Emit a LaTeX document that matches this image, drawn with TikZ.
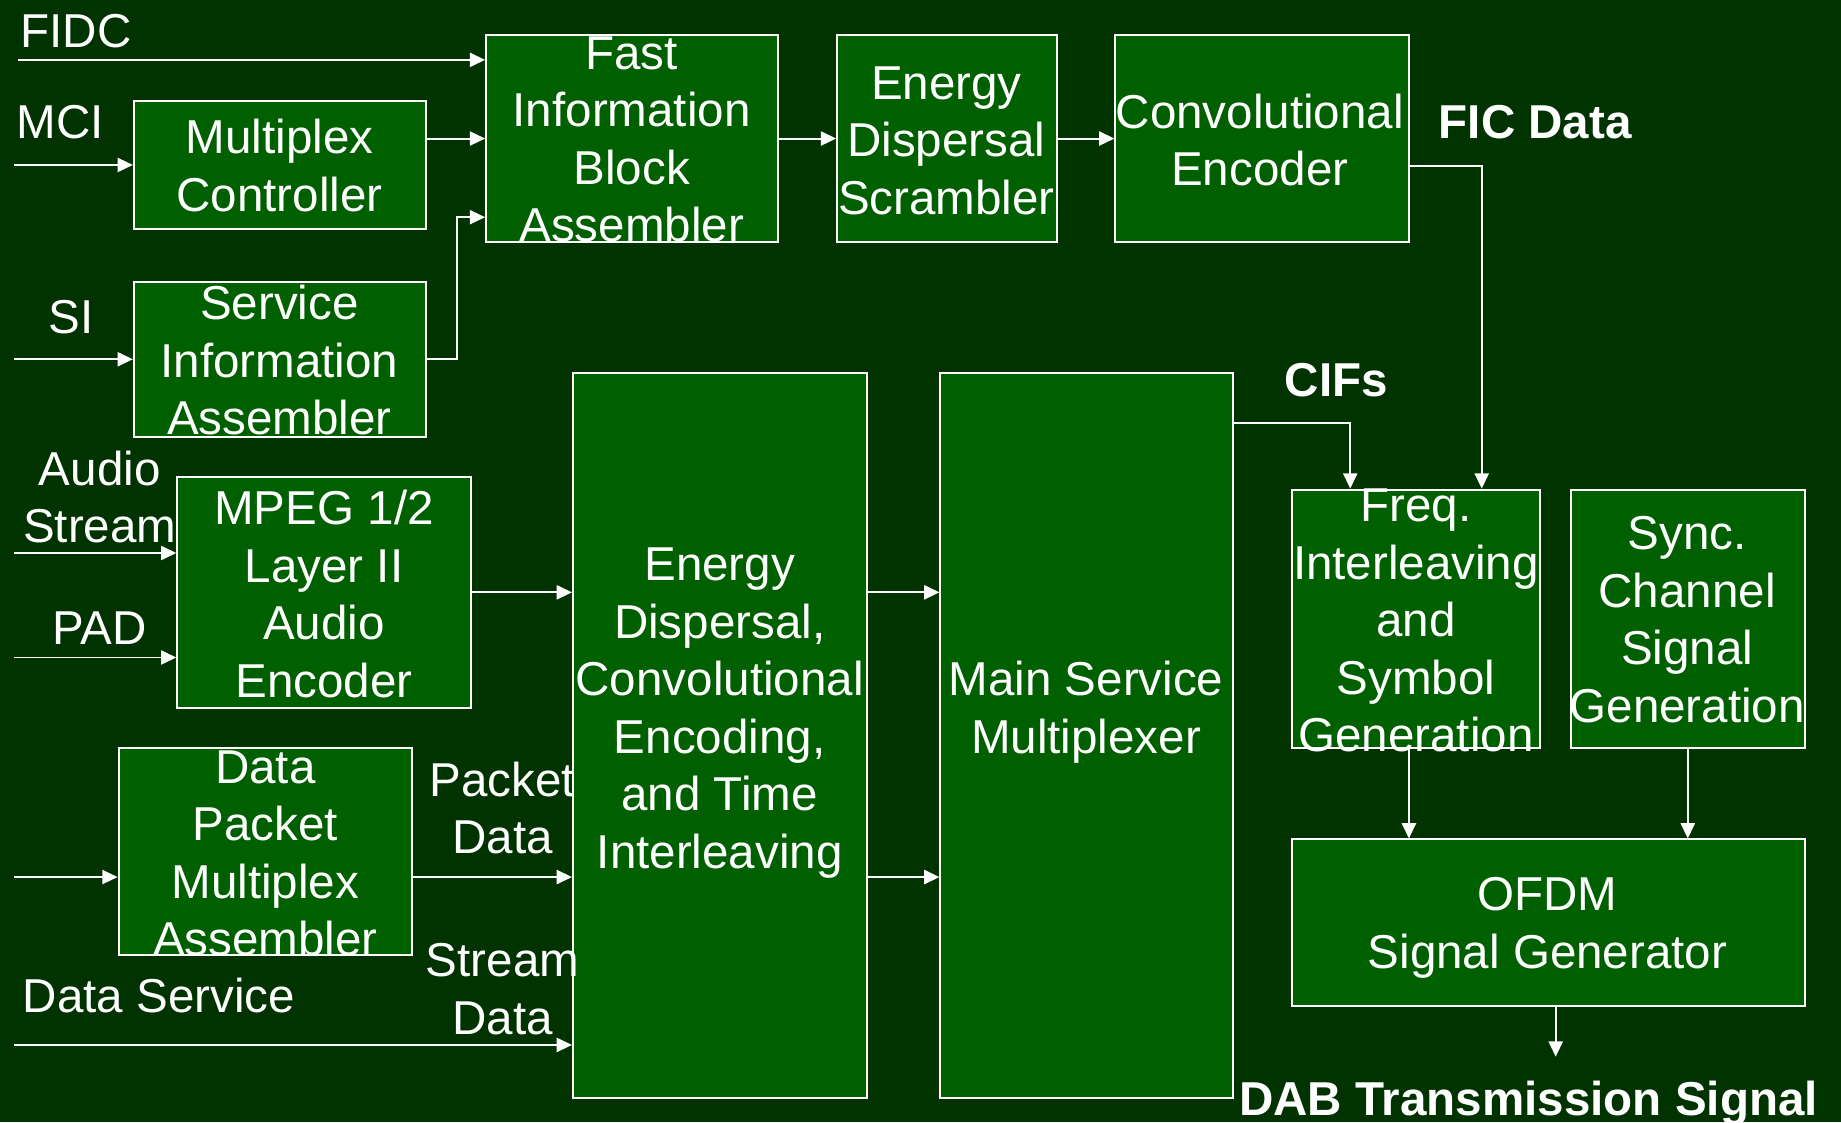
\documentclass[tikz,border=0pt]{standalone}
\usepackage{fontspec}
\setmainfont{Liberation Sans}
\usetikzlibrary{arrows.meta,calc}
\definecolor{bgdark}{RGB}{0,51,0}
\definecolor{boxgreen}{RGB}{0,96,0}
\newcommand\labfont{\fontsize{20.25pt}{24.5pt}\selectfont}

\begin{document}
\begin{tikzpicture}[x=0.5pt,y=-0.5pt,
  blk/.style 2 args={draw=white, fill=boxgreen, line width=0.85pt, inner sep=0pt,
    minimum width=#1*0.5pt, minimum height=#2*0.5pt},
  txt/.style={text=white, font=\labfont, align=center, inner sep=0pt,
    execute at begin node={\rule{0pt}{0.75em}},
    execute at end node={\rule[-0.22em]{0pt}{0pt}}},
  lab/.style={txt, anchor=west},
  hot/.style={lab, font=\labfont\bfseries},
  arr/.style={white, line width=0.85pt, -{Triangle[length=6.5pt,width=6pt]}}
]
% page and background
\fill[bgdark] (0,0) rectangle (1568,956);
\useasboundingbox (0,0) rectangle (1568,956);

% processing blocks
\node[blk={249}{109}] (mc)   at (238.5,140.5) {};
\node[blk={249}{132}] (sia)  at (238.5,306)   {};
\node[blk={249}{176}] (fib)  at (538.5,118)   {};
\node[blk={187}{176}] (eds)  at (806.5,118)   {};
\node[blk={250}{176}] (ce)   at (1075,118)    {};
\node[blk={250}{197}] (mpeg) at (276,504.5)   {};
\node[blk={250}{176}] (dpma) at (226,725)     {};
\node[blk={250}{617}] (edc)  at (613,626.5)   {};
\node[blk={249}{617}] (msm)  at (925.5,626.5) {};
\node[blk={212}{220}] (fis)  at (1206,527)    {};
\node[blk={199}{220}] (scs)  at (1437.5,527)  {};
\node[blk={437}{142}] (ofdm) at (1318.5,786)  {};

% block captions
\node[txt] (mc-t)   at (238,145)   {Multiplex\\Controller};
\node[txt] (sia-t)  at (238,311)   {Service\\Information\\Assembler};
\node[txt] (fib-t)  at (538,123)   {Fast\\Information\\Block\\Assembler};
\node[txt] (eds-t)  at (806,124)   {Energy\\Dispersal\\Scrambler};
\node[txt] (ce-t)   at (1073,123.5) {Convolutional\\Encoder};
\node[txt] (mpeg-t) at (276,510)   {MPEG 1/2\\Layer II\\Audio\\Encoder};
\node[txt] (dpma-t) at (226,731)   {Data\\Packet\\Multiplex\\Assembler};
\node[txt] (edc-t)  at (613,607.5) {Energy\\Dispersal,\\Convolutional\\Encoding,\\and Time\\Interleaving};
\node[txt] (msm-t)  at (925,607)   {Main Service\\Multiplexer};
\node[txt] (fis-t)  at (1206,533)  {Freq.\\Interleaving\\and\\Symbol\\Generation};
\node[txt] (scs-t)  at (1437,532)  {Sync.\\Channel\\Signal\\Generation};
\node[txt] (ofdm-t) at (1318,790.5) {OFDM\\Signal Generator};

% signal labels
\node[lab] (fidc-l) at (17,30)   {FIDC};
\node[lab] (mci-l)  at (14,107)  {MCI};
\node[lab] (si-l)   at (41,273)  {SI};
\node[txt] (aud-l)  at (85,427.5) {Audio\\Stream};
\node[lab] (pad-l)  at (44,538)  {PAD};
\node[txt] (pkt-l)  at (428,692.5) {Packet\\Data};
\node[txt] (str-l)  at (428,846.5) {Stream\\Data};
\node[lab] (ds-l)   at (19,852)  {Data Service};
\node[hot] (fic-l)  at (1225,107) {FIC Data};
\node[hot] (cif-l)  at (1094,327) {CIFs};
\node[hot] (dab-l)  at (1055,939.5) {DAB Transmission Signal};

% free ends of the input and output lines
\coordinate (fidcsrc) at (15,51);
\coordinate (mcisrc)  at (12,140.5);
\coordinate (sisrc)   at (12,306);
\coordinate (audsrc)  at (12,471);
\coordinate (padsrc)  at (12,560);
\coordinate (datsrc)  at (12,747);
\coordinate (dssrc)   at (12,890);
\coordinate (dabout)  at (1325,900);

% FIC path
\draw[arr] (fidcsrc) -- (fidcsrc -| fib.west);
\draw[arr] (mcisrc) -- (mc.west);
\draw[arr] (mc.east |- fib.west) -- (fib.west);
\draw[arr] (sisrc) -- (sia.west);
\draw[arr] (sia.east) -- ++(25,0) |- ([yshift=-33.5pt]fib.west);
\draw[arr] (fib.east) -- (eds.west);
\draw[arr] (eds.east) -- (ce.west);
\draw[arr] ([yshift=-11.5pt]ce.east) -| ([xshift=28pt]fis.north);

% MSC path
\draw[arr] (audsrc) -- (audsrc -| mpeg.west);
\draw[arr] (padsrc) -- (padsrc -| mpeg.west);
\draw[arr] (mpeg.east) -- (mpeg.east -| edc.west);
\draw[arr] (datsrc) -- (datsrc -| dpma.west);
\draw[arr] (datsrc -| dpma.east) -- (datsrc -| edc.west);
\draw[arr] (dssrc) -- (dssrc -| edc.west);
\draw[arr] (mpeg.east -| edc.east) -- (mpeg.east -| msm.west);
\draw[arr] (datsrc -| edc.east) -- (datsrc -| msm.west);
\draw[arr] ([yshift=-21.5pt]msm.north east) -| ([xshift=-28pt]fis.north);

% transmission stage
\draw[arr] ([xshift=-3pt]fis.south) -- ([xshift=-3pt]fis.south |- ofdm.north);
\draw[arr] (scs.south) -- (scs.south |- ofdm.north);
\draw[arr] ([xshift=3.25pt]ofdm.south) -- (dabout);
\end{tikzpicture}
\end{document}
